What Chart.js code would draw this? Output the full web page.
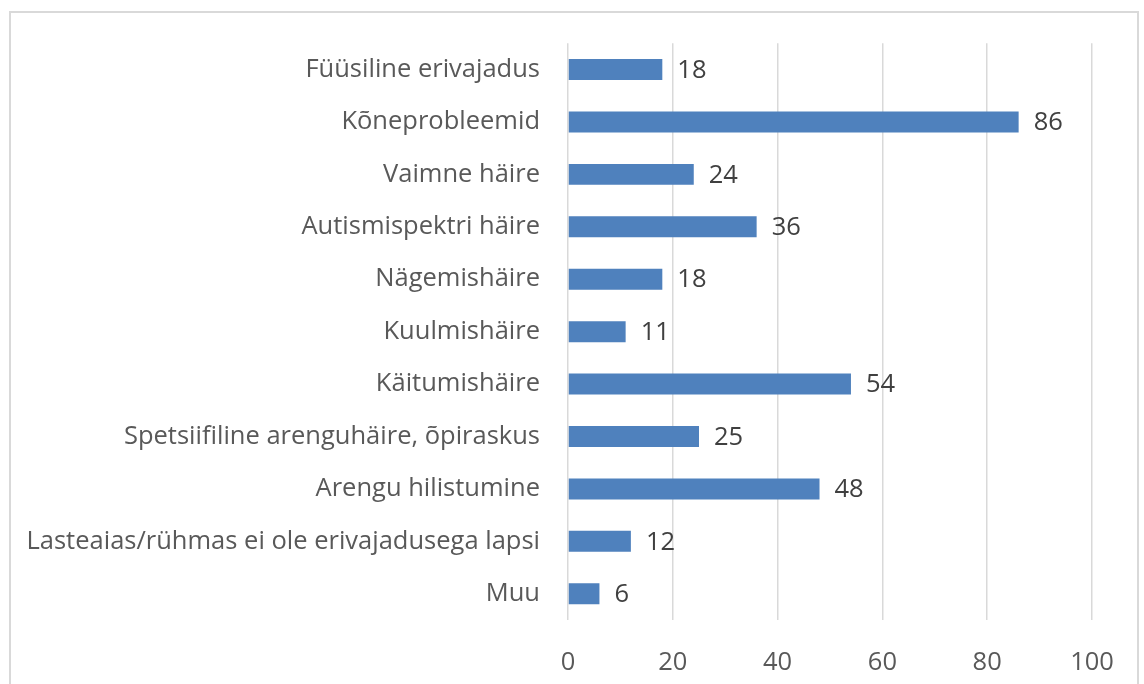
<!DOCTYPE html>
<html>
<head>
<meta charset="utf-8">
<script src="https://cdn.jsdelivr.net/npm/chart.js@4/dist/chart.umd.min.js"></script>
<style>
  html, body { margin: 0; padding: 0; background: #fff; }
  #wrap { width: 1144px; height: 684px; position: relative; }
</style>
</head>
<body>
<div id="wrap"><canvas id="chart" width="1144" height="684"></canvas></div>
<script>
// andmed
const categories = [
    'Füüsiline erivajadus',
    'Kõneprobleemid',
    'Vaimne häire',
    'Autismispektri häire',
    'Nägemishäire',
    'Kuulmishäire',
    'Käitumishäire',
    'Spetsiifiline arenguhäire, õpiraskus',
    'Arengu hilistumine',
    'Lasteaias/rühmas ei ole erivajadusega lapsi',
    'Muu'
];
const values = [18, 86, 24, 36, 18, 11, 54, 25, 48, 12, 6];
const xTicks = [0, 20, 40, 60, 80, 100];

const FONT = '"Open Sans", Lato, sans-serif';
const FONT_SIZE = 25.5;

// raam ümber joonise
const framePlugin = {
    id: 'frame',
    beforeDraw(chart) {
        const ctx = chart.ctx;
        ctx.save();
        ctx.strokeStyle = '#d9d9d9';
        ctx.lineWidth = 2;
        ctx.strokeRect(10, 12, 1128, 720);
        ctx.restore();
    }
};

// väärtuste sildid tulpade lõpus
const valueLabels = {
    id: 'valueLabels',
    afterDatasetsDraw(chart) {
        const ctx = chart.ctx;
        const meta = chart.getDatasetMeta(0);
        ctx.save();
        ctx.font = FONT_SIZE + 'px ' + FONT;
        ctx.fillStyle = '#404040';
        ctx.textAlign = 'left';
        ctx.textBaseline = 'middle';
        meta.data.forEach((bar, i) => {
            ctx.fillText(String(values[i]), bar.x + 15, bar.y + 1);
        });
        ctx.restore();
    }
};

new Chart(document.getElementById('chart'), {
    type: 'bar',
    data: {
        labels: categories,
        datasets: [{
            data: values,
            backgroundColor: '#4f81bd',
            borderWidth: 0,
            barPercentage: 0.8,
            categoryPercentage: 0.5
        }]
    },
    options: {
        indexAxis: 'y',
        responsive: false,
        animation: false,
        layout: { padding: { top: 41, right: 52, left: 0, bottom: 0 } },
        plugins: {
            legend: { display: false },
            tooltip: { enabled: false }
        },
        scales: {
            x: {
                min: 0,
                max: 100,
                afterBuildTicks(scale) {
                    scale.ticks = xTicks.map(v => ({ value: v }));
                },
                afterFit(scale) { scale.height = 64; },
                grid: { color: '#d9d9d9', lineWidth: 1.5, drawTicks: false },
                border: { display: false },
                ticks: {
                    padding: 27,
                    color: '#595959',
                    font: { family: FONT, size: FONT_SIZE }
                }
            },
            y: {
                afterFit(scale) { scale.width = 568; },
                grid: { display: false, drawTicks: false },
                border: { display: false },
                ticks: {
                    padding: 28,
                    color: '#595959',
                    font: { family: FONT, size: FONT_SIZE }
                }
            }
        }
    },
    plugins: [framePlugin, valueLabels]
});
</script>
</body>
</html>
